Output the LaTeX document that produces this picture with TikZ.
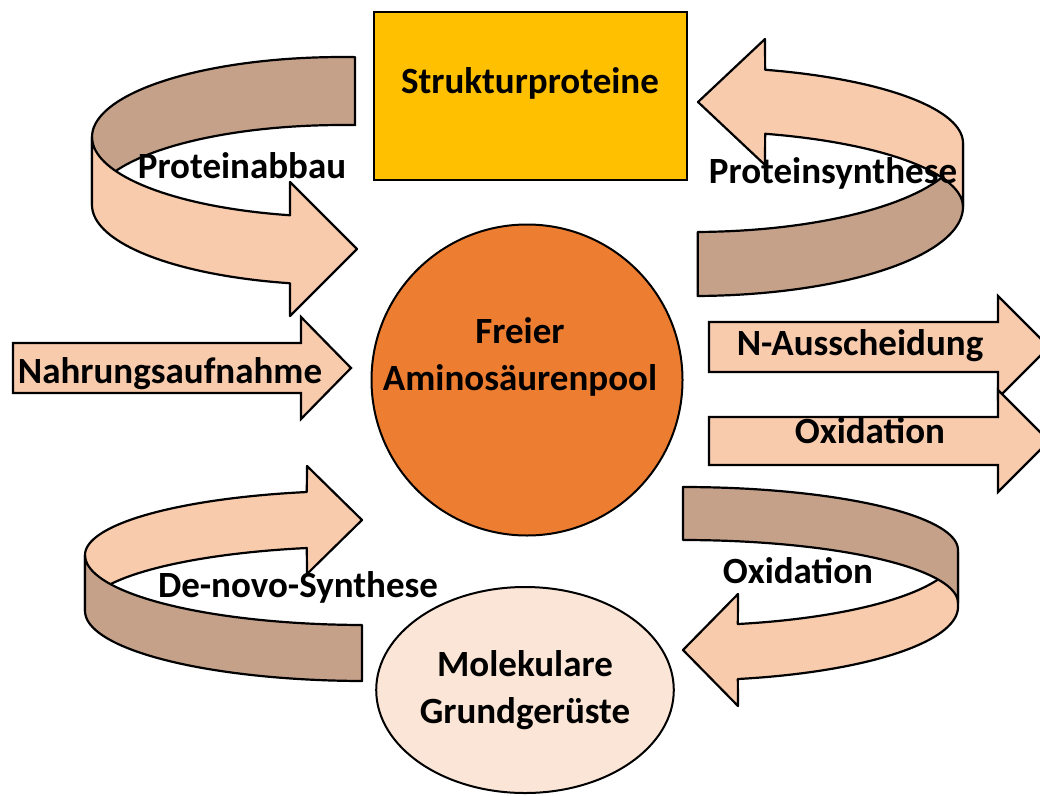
\documentclass[tikz,border=0pt]{standalone}
\usepackage{fontspec}
\setmainfont{Carlito}
\usetikzlibrary{shapes.geometric,positioning}
\definecolor{boxgold}{HTML}{FFC000}
\definecolor{poolorange}{HTML}{ED7D31}
\definecolor{palepeach}{HTML}{FBE5D6}
\definecolor{peach}{HTML}{F8CBAD}
\definecolor{bandtan}{HTML}{C5A18A}
\tikzset
{
    txt/.style         = {font=\fontsize{37}{47}\selectfont\bfseries, align=center, inner sep=0pt},
    boxnode/.style     = {rectangle, draw=black, line width=2pt, fill=boxgold, minimum width=313pt, minimum height=168pt},
    poolnode/.style    = {circle, draw=black, line width=2pt, fill=poolorange, minimum size=311pt},
    basenode/.style    = {ellipse, draw=black, line width=2pt, fill=palepeach, minimum width=265pt, minimum height=206pt, txt},
    ribbonback/.style  = {draw=black, line width=2.2pt, fill=bandtan, line join=round, samples=40},
    ribbonfront/.style = {draw=black, line width=2.2pt, fill=peach, line join=round, samples=40},
    flatarrow/.style   = {draw=black, line width=2.2pt, fill=peach, line join=miter}
}

\begin{document}
\begin{tikzpicture}[x=1pt, y=-1pt]
   \useasboundingbox (0,0) rectangle (1040,795);

   % straight arrows
   \draw[flatarrow] (13,343) -- (301,343) -- (301,317) -- (351,368) -- (301,419) -- (301,393) -- (13,393) -- cycle;
   \draw[flatarrow] (709,322) -- (998,322) -- (998,296) -- (1049,347) -- (998,398) -- (998,372) -- (709,372) -- cycle;
   \draw[flatarrow] (709,417) -- (998,417) -- (998,390) -- (1049,441) -- (998,492) -- (998,465) -- (709,465) -- cycle;

   % Proteinabbau (back, then front)
   \draw[ribbonback] plot[domain=273:180] ({342+250*cos(\x)},{137+80*sin(\x)})
      -- plot[domain=180:273] ({342+250*cos(\x)},{205+80*sin(\x)}) -- cycle;
   \draw[ribbonfront] plot[domain=180:102] ({342+250*cos(\x)},{137+80*sin(\x)})
      -- (290,182) -- (357,249) -- (290,316)
      -- plot[domain=102:180] ({342+250*cos(\x)},{205+80*sin(\x)}) -- cycle;

   % Proteinsynthese
   \draw[ribbonback] plot[domain=89:0] ({693+270*cos(\x)},{143+89*sin(\x)})
      -- plot[domain=0:89] ({693+270*cos(\x)},{207+89*sin(\x)}) -- cycle;
   \draw[ribbonfront] plot[domain=0:-74.5] ({693+270*cos(\x)},{143+76*sin(\x)})
      -- (765,39) -- (698,102) -- (765,165)
      -- plot[domain=-74.5:0] ({693+270*cos(\x)},{207+76*sin(\x)}) -- cycle;

   % Oxidation (front first, back on top)
   \draw[ribbonfront] plot[domain=0:78.5] ({683+275*cos(\x)},{552+73.5*sin(\x)})
      -- (738,594) -- (683,650) -- (738,706)
      -- plot[domain=78.5:0] ({683+275*cos(\x)},{607+73.5*sin(\x)}) -- cycle;
   \draw[ribbonback] plot[domain=-90:0] ({683+275*cos(\x)},{550+63*sin(\x)})
      -- plot[domain=0:-90] ({683+275*cos(\x)},{603+63*sin(\x)}) -- cycle;

   % De-novo-Synthese
   \draw[ribbonfront] plot[domain=180:258] ({365+280*cos(\x)},{555+64.4*sin(\x)})
      -- (307,466) -- (362,520) -- (307,574)
      -- plot[domain=258:180] ({365+280*cos(\x)},{611+64.4*sin(\x)}) -- cycle;
   \draw[ribbonback] plot[domain=180:90.6] ({365+280*cos(\x)},{555+70*sin(\x)})
      -- plot[domain=90.6:180] ({365+280*cos(\x)},{611+70*sin(\x)}) -- cycle;

   \node (struk)  [boxnode]  at (530,96)  {};
   \node (pool)   [poolnode] at (527,380) {};
   \node (gerust) [basenode] at (525,690) {Molekulare\\Grundgerüste};

   \node (struklbl) [txt, anchor=base] at (530,93)  {Strukturproteine};
   \node (poollbl)  [txt]              at (520,357) {Freier\\Aminosäurenpool};
   \node (abbau)    [txt, anchor=base] at (242,178) {Proteinabbau};
   \node (synth)    [txt, anchor=base] at (833,183) {Proteinsynthese};
   \node (oxcurve)  [txt, anchor=base] at (798,583) {Oxidation};
   \node (denovo)   [txt, anchor=base] at (298,597) {De-novo-Synthese};
   \node (nahrung)  [txt, anchor=base] at (170,383) {Nahrungsaufnahme};
   \node (nauss)    [txt, anchor=base] at (860,355) {N-Ausscheidung};
   \node (oxflat)   [txt, anchor=base] at (870,443) {Oxidation};
\end{tikzpicture}
\end{document}
